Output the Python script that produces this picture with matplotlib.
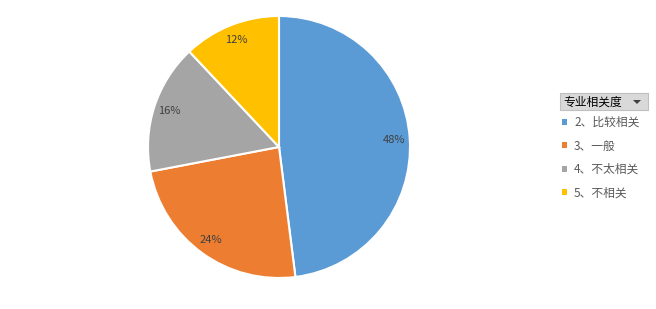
import matplotlib.pyplot as plt
from matplotlib.patches import FancyBboxPatch, Polygon

plt.rcParams['font.family'] = ['Noto Sans CJK SC', 'DejaVu Sans']

# 数据
categories = ['2、比较相关', '3、一般', '4、不太相关', '5、不相关']
shares = [48, 24, 16, 12]
colors = ['#5B9BD5', '#ED7D31', '#A5A5A5', '#FFC000']
legend_title = '专业相关度'

fig = plt.figure(figsize=(6.56, 3.09), dpi=100)
# 饼图区域：中心约 (279,147)，半径约 130 px
ax = fig.add_axes([(279 - 131) / 656, 1 - (147 + 131) / 309, 262 / 656, 262 / 309])

wedges, texts, autotexts = ax.pie(
    shares,
    colors=colors,
    startangle=90,
    counterclock=False,
    autopct='%1.0f%%',
    pctdistance=0.88,
    wedgeprops=dict(edgecolor='white', linewidth=1.5),
    textprops=dict(color='#404040', fontsize=8),
)
ax.set_xlim(-1.0, 1.0)
ax.set_ylim(-1.0, 1.0)
ax.set_aspect('equal')

# 图例标题（下拉按钮样式）
hdr = FancyBboxPatch((560 / 656, 1 - 110 / 309), 88 / 656, 17 / 309,
                     boxstyle='square,pad=0', transform=fig.transFigure,
                     facecolor='#D9D9D9', edgecolor='#BFBFBF', linewidth=0.8)
fig.patches.append(hdr)
fig.text(563 / 656, 1 - 102 / 309, legend_title, fontsize=8.5, color='black',
         va='center', ha='left')
arrow = Polygon([[633 / 656, 1 - 100 / 309], [641 / 656, 1 - 100 / 309],
                 [637 / 656, 1 - 104 / 309]], closed=True,
                transform=fig.transFigure, facecolor='#404040', edgecolor='none')
fig.patches.append(arrow)

leg = fig.legend(
    wedges, categories,
    loc='upper left',
    bbox_to_anchor=(562 / 656, 1 - 116 / 309),
    frameon=False,
    fontsize=8.5,
    handlelength=0.42,
    handleheight=0.42,
    handletextpad=0.6,
    labelspacing=0.88,
    borderaxespad=0,
    borderpad=0,
)
for t in leg.get_texts():
    t.set_color('#595959')
for h in leg.legend_handles:
    h.set_edgecolor('none')

fig.savefig('out.png', dpi=100)
